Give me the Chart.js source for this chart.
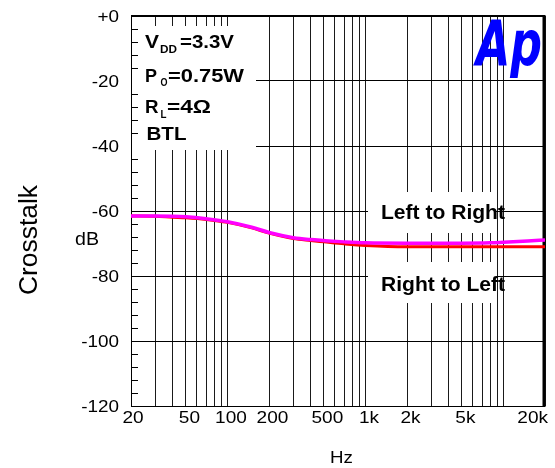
<!DOCTYPE html>
<html>
<head>
<meta charset="utf-8">
<script src="https://cdn.jsdelivr.net/npm/chart.js@4.4.1/dist/chart.umd.min.js"></script>
<style>
  html, body { margin: 0; padding: 0; background: #fff; }
  #wrap { width: 555px; height: 468px; position: relative; }
</style>
</head>
<body>
<div id="wrap"><canvas id="chart"></canvas></div>
<script>
// frequencies (Hz) and crosstalk (dB)
const freqs       = [20, 30, 40, 50, 70, 100, 150, 200, 300, 400, 500, 700, 1000, 2000, 5000, 8000, 10000, 15000, 20000];
const leftToRight = [-61.5, -61.5, -61.6, -61.8, -62.4, -63.3, -65.0, -66.6, -68.2, -68.8, -69.1, -69.5, -69.8, -69.9, -69.9, -69.8, -69.6, -69.2, -68.9];
const rightToLeft = [-61.5, -61.6, -61.9, -62.1, -62.6, -63.5, -65.2, -66.8, -68.5, -69.1, -69.5, -70.1, -70.6, -71.0, -71.0, -71.0, -71.0, -71.0, -71.0];

const gridFreqs = [20, 30, 40, 50, 60, 70, 80, 90, 100, 200, 300, 400, 500, 600, 700, 800, 900,
  1000, 2000, 3000, 4000, 5000, 6000, 7000, 8000, 9000, 10000, 20000];
const xTickValues = [20, 50, 100, 200, 500, 1000, 2000, 5000, 20000];
const xTickLabels = ['20', '50', '100', '200', '500', '1k', '2k', '5k', '20k'];
const yTickValues = [0, -20, -40, -60, -80, -100, -120];
const yTickLabels = ['+0', '-20', '-40', '-60', '-80', '-100', '-120'];

const FONT = 'Liberation Sans, Arial, sans-serif';

// draw text squeezed/stretched horizontally
function drawText(ctx, s, x, y, font, opt) {
  opt = opt || {};
  ctx.save();
  ctx.font = font;
  const w0 = ctx.measureText(s).width;
  const sx = opt.width ? opt.width / w0 : (opt.sx || 1);
  const w = w0 * sx;
  let x0 = x;
  if (opt.align === 'center') x0 = x - w / 2;
  if (opt.align === 'right') x0 = x - w;
  ctx.translate(x0, y);
  ctx.scale(sx, 1);
  ctx.textAlign = 'left';
  ctx.textBaseline = 'alphabetic';
  ctx.fillStyle = opt.color || '#000';
  ctx.fillText(s, 0, 0);
  ctx.restore();
  return w;
}

const decor = {
  id: 'decor',
  beforeDatasetsDraw(chart) {
    const ctx = chart.ctx;
    const a = chart.chartArea;
    const x = chart.scales.x, y = chart.scales.y;

    // white boxes behind the notes
    ctx.save();
    ctx.fillStyle = '#fff';
    ctx.fillRect(a.left + 1, 26, 256 - a.left - 1, 124);
    ctx.fillRect(368, 192, 128, 41);
    ctx.fillRect(368, 262, 128, 41);
    ctx.restore();

    // frame
    ctx.save();
    ctx.strokeStyle = '#000';
    ctx.lineWidth = 1;
    ctx.beginPath();
    ctx.moveTo(a.left + 0.5, a.top);
    ctx.lineTo(a.left + 0.5, a.bottom + 0.5);
    ctx.lineTo(a.right, a.bottom + 0.5);
    ctx.stroke();
    ctx.lineWidth = 2;
    ctx.beginPath();
    ctx.moveTo(a.left, a.top);
    ctx.lineTo(a.right, a.top);
    ctx.stroke();
    ctx.lineWidth = 3;
    ctx.beginPath();
    ctx.moveTo(a.right - 1, a.top - 1);
    ctx.lineTo(a.right - 1, a.bottom + 1);
    ctx.stroke();

    // inward minor ticks on left axis, every 4 dB
    ctx.lineWidth = 1;
    ctx.beginPath();
    for (let v = -116; v < 0; v += 4) {
      if (v % 20 === 0) continue;
      const py = Math.round(y.getPixelForValue(v)) + 0.5;
      ctx.moveTo(a.left, py);
      ctx.lineTo(a.left + 7, py);
    }
    ctx.stroke();
    ctx.restore();

    // tick labels
    yTickValues.forEach((v, i) => {
      drawText(ctx, yTickLabels[i], 119, y.getPixelForValue(v) + 6, '16px ' + FONT, {sx: 1.18, align: 'right'});
    });
    xTickValues.forEach((v, i) => {
      const px = x.getPixelForValue(v);
      if (i === xTickValues.length - 1) {
        drawText(ctx, xTickLabels[i], 548, 423, '17px ' + FONT, {sx: 1.12, align: 'right'});
      } else {
        drawText(ctx, xTickLabels[i], px + (i === 0 ? 2 : 3.5), 423, '17px ' + FONT, {sx: 1.12, align: 'center'});
      }
    });

    // axis titles
    drawText(ctx, 'Hz', 341.5, 463, '17px ' + FONT, {sx: 1.1, align: 'center'});
    drawText(ctx, 'dB', 75, 245, '18px ' + FONT, {width: 24});
    ctx.save();
    ctx.translate(36.5, 240);
    ctx.rotate(-Math.PI / 2);
    drawText(ctx, 'Crosstalk', 0, 0, '26px ' + FONT, {width: 110, align: 'center'});
    ctx.restore();

    // condition notes
    const B = 'bold 19px ' + FONT, S = 'bold 10px ' + FONT;
    drawText(ctx, 'V', 145, 48, B, {width: 14});
    drawText(ctx, 'DD', 160, 53, S, {width: 17});
    drawText(ctx, '=3.3V', 180, 48, B, {width: 54});
    drawText(ctx, 'P', 145, 81.5, B, {width: 12});
    drawText(ctx, 'O', 160.5, 86, S, {width: 7});
    drawText(ctx, '=0.75W', 168, 81.5, B, {width: 76});
    drawText(ctx, 'R', 145, 113, B, {width: 13.5});
    drawText(ctx, 'L', 160.5, 118, S, {width: 6});
    drawText(ctx, '=4\u03A9', 167, 113, B, {width: 44});
    drawText(ctx, 'BTL', 146.5, 140, B, {width: 40});

    drawText(ctx, 'Left to Right', 381, 219, 'bold 20px ' + FONT, {width: 124});
    drawText(ctx, 'Right to Left', 381, 290.5, 'bold 20px ' + FONT, {width: 124});

    // Ap logo
    drawText(ctx, 'Ap', 476, 65, 'italic bold 62px "DejaVu Sans", sans-serif', {width: 66, color: '#0000ff'});
  }
};

new Chart(document.getElementById('chart'), {
  type: 'line',
  data: {
    labels: freqs,
    datasets: [
      {
        label: 'Right to Left',
        data: freqs.map((f, i) => ({x: f, y: rightToLeft[i]})),
        borderColor: '#ff0000',
        borderWidth: 3,
        pointRadius: 0,
        cubicInterpolationMode: 'monotone',
        order: 2
      },
      {
        label: 'Left to Right',
        data: freqs.map((f, i) => ({x: f, y: leftToRight[i]})),
        borderColor: '#ff00ff',
        borderWidth: 3.5,
        pointRadius: 0,
        cubicInterpolationMode: 'monotone',
        order: 1
      }
    ]
  },
  options: {
    responsive: true,
    maintainAspectRatio: false,
    animation: false,
    events: [],
    layout: { padding: { top: 16, right: 10, left: 0, bottom: 0 } },
    plugins: { legend: { display: false }, title: { display: false }, tooltip: { enabled: false } },
    scales: {
      x: {
        type: 'logarithmic',
        min: 20,
        max: 20000,
        afterBuildTicks: s => { s.ticks = gridFreqs.map(v => ({value: v})); },
        afterFit: s => { s.height = 62; },
        ticks: { display: false },
        grid: { color: '#1a1a1a', lineWidth: 1, drawTicks: false },
        border: { display: false }
      },
      y: {
        type: 'linear',
        min: -120,
        max: 0,
        ticks: { display: false, stepSize: 20 },
        afterFit: s => { s.width = 131; },
        grid: { color: '#000', lineWidth: 1, drawTicks: false },
        border: { display: false }
      }
    }
  },
  plugins: [decor]
});
</script>
</body>
</html>
